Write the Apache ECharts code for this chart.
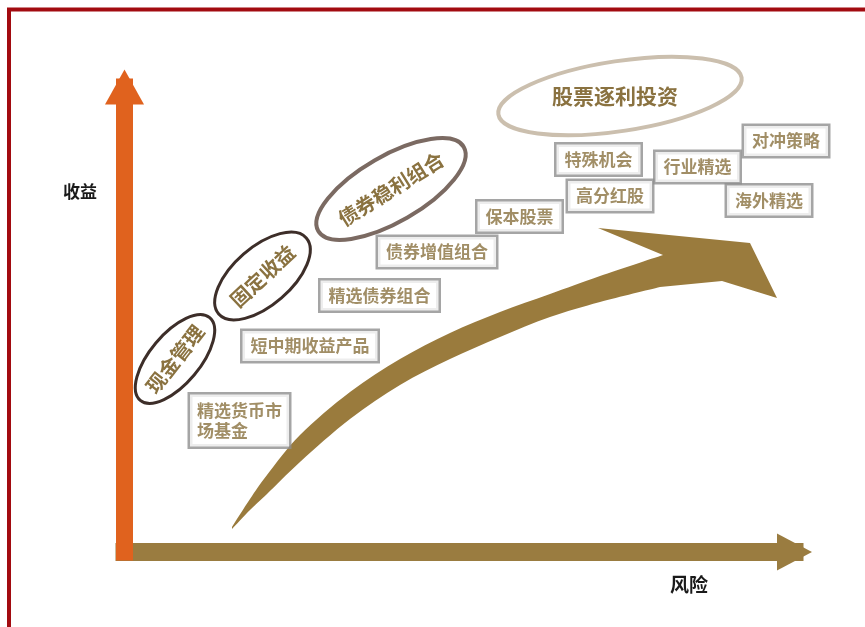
<!DOCTYPE html>
<html><head><meta charset="utf-8">
<script src="https://cdn.jsdelivr.net/npm/echarts@6/dist/echarts.min.js"></script>
<style>html,body{margin:0;padding:0;background:#fff}#c{width:865px;height:627px}</style>
</head><body><div id="c"></div>
<script>
// ---- Data (risk = x, return = y) ----
const products = ['精选货币市\n场基金','短中期收益产品','精选债券组合','债券增值组合','保本股票','特殊机会','高分红股','行业精选','对冲策略','海外精选'];
const productRisk = [10.75,18.55,25.5,31.25,39.5,47.4,48.55,57.3,66.15,64.45];
const productReturn = [13.15,20.6,25.65,30.0,33.55,39.25,35.6,38.5,41.1,35.15];

const groups = ['现金管理','固定收益','债券稳利组合','股票逐利投资'];
const groupRisk = [5.05,13.8,26.65,49.55];
const groupReturn = [19.3,27.6,36.3,45.6];

// risk/return frontier arrow outline
const curveUpperRisk = [10.75,12.55,14.25,17.55,22.55,27.55,32.55,37.55,42.55,47.55,53.85];
const curveUpperReturn = [2.5,5.3,7.7,11.7,16.0,19.3,21.9,24.0,25.8,27.6,29.7];
const headRisk = [47.35,62.55,65.25,59.75];
const headReturn = [32.4,30.9,25.4,27.1];
const curveLowerRisk = [53.55,47.55,42.55,37.55,32.55,27.55,22.55,17.55,14.25,12.55,10.75];
const curveLowerReturn = [26.5,25.0,23.5,21.5,19.3,16.7,13.3,9.0,5.8,4.2,2.3];

const axisNames = {x:'风险', y:'收益'};

// ---- Styles ----
const FONT = '"Noto Sans CJK SC", "Noto Sans", sans-serif';
const GOLD = '#8a7240';
const ellipseStyle = [
  {rx:54, ry:25, rot:50, stroke:'#3d2e29', lw:3, textRot:52, fs:20, dx:0},
  {rx:58, ry:29, rot:41, stroke:'#3d2e29', lw:3, textRot:43, fs:20, dx:0},
  {rx:84, ry:33, rot:30, stroke:'#7b6a62', lw:4, textRot:32, fs:20, dx:0},
  {rx:123, ry:35, rot:8.6, stroke:'#cbbfae', lw:4, textRot:0, fs:21, dx:-5}
];

// Catmull-Rom spline through pixel points -> SVG cubic segments
function splinePath(pts){
  let d = '';
  for (let i=0;i<pts.length-1;i++){
    const p0 = pts[i-1]||pts[i], p1 = pts[i], p2 = pts[i+1], p3 = pts[i+2]||pts[i+1];
    const c1 = [p1[0]+(p2[0]-p0[0])/6, p1[1]+(p2[1]-p0[1])/6];
    const c2 = [p2[0]-(p3[0]-p1[0])/6, p2[1]-(p3[1]-p1[1])/6];
    d += ' C'+c1[0].toFixed(2)+','+c1[1].toFixed(2)+' '+c2[0].toFixed(2)+','+c2[1].toFixed(2)+' '+p2[0].toFixed(2)+','+p2[1].toFixed(2);
  }
  return d;
}

const chart = echarts.init(document.getElementById('c'));
const productData = products.map((n,i)=>{
  const d = {name:n, value:[productRisk[i], productReturn[i]]};
  if (n.indexOf('\n')>=0) d.label = {align:'left', offset:[-42,0], padding:[6,7]};
  return d;
});

chart.setOption({
  backgroundColor:'#fff',
  animation:false,
  grid:{left:124.5, right:70.5, top:87, bottom:75},
  xAxis:{type:'value', min:0, max:67, z:1,
    axisLine:{show:true, symbol:['none','triangle'], symbolSize:[37,35],
      lineStyle:{color:'#9a7c40', width:18, cap:'square'}},
    axisTick:{show:false}, axisLabel:{show:false}, splitLine:{show:false}},
  yAxis:{type:'value', min:0, max:46.5, z:2,
    axisLine:{show:true, symbol:['none','triangle'], symbolSize:[39,35],
      lineStyle:{color:'#e0621e', width:17, cap:'square'}},
    axisTick:{show:false}, axisLabel:{show:false}, splitLine:{show:false}},
  graphic:[
    {type:'rect', shape:{x:9, y:9.5, width:900, height:700}, style:{fill:'none', stroke:'#a20b10', lineWidth:4}, z:100},
    {type:'text', x:80, y:192, style:{text:axisNames.y, font:'bold 17px '+FONT, fill:'#1a1a1a', align:'center', verticalAlign:'middle'}},
    {type:'text', x:689, y:585, style:{text:axisNames.x, font:'bold 19px '+FONT, fill:'#1a1a1a', align:'center', verticalAlign:'middle'}}
  ],
  series:[
    {type:'custom', z:3, clip:false, data:[[0,0]],
      renderItem:function(params, api){
        const up = curveUpperRisk.map((r,i)=>api.coord([r, curveUpperReturn[i]]));
        const hd = headRisk.map((r,i)=>api.coord([r, headReturn[i]]));
        const lo = curveLowerRisk.map((r,i)=>api.coord([r, curveLowerReturn[i]]));
        let d = 'M'+up[0][0]+','+up[0][1] + splinePath(up);
        hd.forEach(p=>{ d += ' L'+p[0]+','+p[1]; });
        d += ' L'+lo[0][0]+','+lo[0][1] + splinePath(lo) + ' Z';
        return {type:'path', shape:{pathData:d}, style:{fill:'#9a7b3d'}};
      }},
    {type:'custom', z:4, clip:false,
      data: groups.map((g,i)=>({name:g, value:[groupRisk[i], groupReturn[i]]})),
      renderItem:function(params, api){
        const p = api.coord([api.value(0), api.value(1)]);
        const s = ellipseStyle[params.dataIndex];
        return {type:'group', x:p[0], y:p[1], children:[
          {type:'ellipse', rotation:s.rot*Math.PI/180, shape:{cx:0, cy:0, rx:s.rx, ry:s.ry},
            style:{fill:'none', stroke:s.stroke, lineWidth:s.lw}},
          {type:'text', x:s.dx, y:0, rotation:s.textRot*Math.PI/180,
            style:{text:groups[params.dataIndex], x:0, y:0, align:'center', verticalAlign:'middle',
              fill:GOLD, font:'bold '+s.fs+'px '+FONT}}
        ]};
      }},
    {type:'scatter', z:5, symbolSize:0, clip:false, data:productData,
      label:{show:true, position:'inside', formatter:'{b}', color:GOLD, fontSize:17, fontWeight:'bold',
        fontFamily:FONT, lineHeight:20, backgroundColor:'#fff', borderColor:'#8e8e8e', borderWidth:2.5, padding:[5,8]}}
  ]
});
</script></body></html>
